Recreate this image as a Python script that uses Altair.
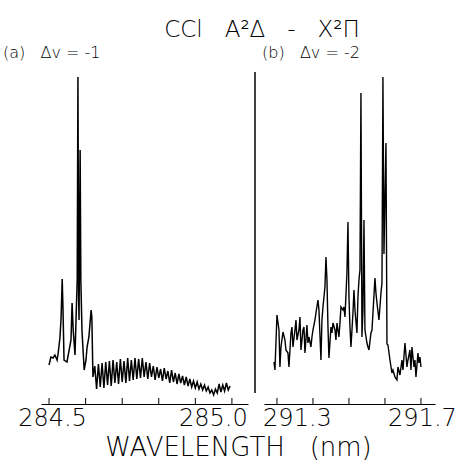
import altair as alt
import pandas as pd

# ---- panel (a): delta v = -1 ----
left_wl = [284.500, 284.505, 284.511, 284.516, 284.522, 284.525, 284.530, 284.533, 284.536, 284.538,
           284.541, 284.549, 284.555, 284.560, 284.563, 284.566, 284.571, 284.574, 284.577, 284.579,
           284.581, 284.582, 284.585, 284.587, 284.590, 284.596, 284.601, 284.604, 284.609, 284.615,
           284.617, 284.620,
           284.625, 284.630, 284.635, 284.640, 284.645, 284.650, 284.655, 284.660, 284.665, 284.670,
           284.675, 284.680, 284.685, 284.690, 284.695, 284.700, 284.705, 284.710, 284.715, 284.720,
           284.725, 284.730, 284.735, 284.740, 284.745, 284.750, 284.755, 284.760, 284.765, 284.770,
           284.775, 284.780, 284.785, 284.790, 284.795, 284.800, 284.805, 284.810, 284.815, 284.820,
           284.825, 284.830, 284.835, 284.840, 284.845, 284.850, 284.855, 284.860, 284.865, 284.870,
           284.875, 284.880, 284.885, 284.890, 284.895, 284.900, 284.905, 284.910, 284.915, 284.920,
           284.925, 284.930, 284.935, 284.940, 284.945, 284.950, 284.955, 284.960, 284.965, 284.970,
           284.975, 284.980, 284.985, 284.990, 284.995]
left_int = [39, 47, 46, 49, 44, 51, 67, 87, 125, 97,
            44, 42, 54, 64, 101, 74, 49, 87, 124, 327,
            104, 84, 254, 122, 74, 34, 44, 57, 67, 94,
            87, 27,
            38, 15, 40, 17, 41, 16, 42, 19, 43, 18,
            44, 21, 42, 20, 45, 22, 43, 21, 46, 23,
            44, 24, 46, 25, 45, 26, 46, 27, 42, 25,
            41, 27, 38, 24, 37, 26, 35, 23, 36, 25,
            33, 21, 34, 22, 31, 20, 30, 21, 28, 19,
            27, 18, 25, 17, 23, 16, 22, 15, 20, 14,
            19, 13, 17, 11, 14, 9, 15, 11, 20, 12,
            19, 13, 21, 14, 18]

# ---- panel (b): delta v = -2 ----
right_wl = [291.2917, 291.2944, 291.3000, 291.3056, 291.3083, 291.3111, 291.3167, 291.3222, 291.3250, 291.3306,
            291.3333, 291.3389, 291.3417, 291.3444, 291.3500, 291.3528, 291.3556, 291.3611, 291.3639, 291.3667,
            291.3722, 291.3750, 291.3778, 291.3833, 291.3861, 291.3889, 291.3944, 291.3972, 291.4000, 291.4056,
            291.4083, 291.4139, 291.4167, 291.4222, 291.4250, 291.4278, 291.4333, 291.4361, 291.4389, 291.4417,
            291.4444, 291.4500, 291.4528, 291.4556, 291.4611, 291.4639, 291.4667, 291.4722, 291.4750, 291.4778,
            291.4833, 291.4861, 291.4889, 291.4944, 291.4972, 291.5000, 291.5028, 291.5056, 291.5111, 291.5139,
            291.5167, 291.5222, 291.5250, 291.5278, 291.5306, 291.5333, 291.5361, 291.5389, 291.5417, 291.5444,
            291.5500, 291.5528, 291.5556, 291.5611, 291.5639, 291.5667, 291.5722, 291.5750, 291.5778, 291.5833,
            291.5861, 291.5889, 291.5917, 291.5944, 291.5972, 291.6028, 291.6056, 291.6083, 291.6139, 291.6194,
            291.6222, 291.6278, 291.6333, 291.6361, 291.6417, 291.6472, 291.6500, 291.6556, 291.6611, 291.6639,
            291.6694, 291.6722, 291.6750, 291.6806, 291.6833, 291.6861, 291.6917, 291.6944, 291.6972, 291.7000]
right_int = [42, 34, 89, 74, 37, 57, 72, 64, 54, 51,
             37, 71, 77, 57, 74, 84, 64, 74, 87, 54,
             74, 77, 51, 79, 61, 67, 57, 67, 74, 84,
             91, 104, 94, 44, 84, 97, 117, 147, 124, 77,
             46, 77, 71, 81, 74, 64, 81, 67, 81, 97,
             94, 97, 87, 131, 182, 107, 77, 57, 91, 114,
             94, 71, 107, 124, 134, 311, 67, 94, 184, 74,
             61, 57, 54, 71, 74, 91, 126, 111, 101, 84,
             97, 111, 121, 327, 150, 261, 60, 59, 44, 31,
             34, 27, 24, 37, 29, 44, 34, 61, 37, 44,
             54, 34, 57, 37, 44, 27, 51, 41, 47, 37]

left_ticks = [284.5, 284.6, 284.7, 284.8, 284.9, 285.0]
right_ticks = [291.3, 291.4, 291.5, 291.6, 291.7]
left_labels = [284.5, 285.0]
right_labels = [291.3, 291.7]

NB = "\u00a0"
title_text = f"CCl{NB*3}A²Δ{NB*3}-{NB*3}X²Π"
panel_a = f"(a){NB*3}Δv{NB}={NB}-1"
panel_b = f"(b){NB*3}Δv{NB}={NB}-2"
x_title = f"WAVELENGTH{NB*3}(nm)"

FONT = "DejaVu Sans"
FW = 200

left_df = pd.DataFrame({"wl": left_wl, "I": left_int})
right_df = pd.DataFrame({"wl": right_wl, "I": right_int})
lt_df = pd.DataFrame({"wl": left_ticks, "y0": 0, "y1": 6})
rt_df = pd.DataFrame({"wl": right_ticks, "y0": 0, "y1": 6})

yscale = alt.Scale(domain=[0, 334], nice=False, zero=False)
lscale = alt.Scale(domain=[284.478, 285.044], range=[0, 207], nice=False, zero=False)
rscale = alt.Scale(domain=[291.264, 291.739], range=[223, 394], nice=False, zero=False)

def make_axis(values, offsets, title=None):
    kw = dict(
        values=values, format=".1f", ticks=False, tickSize=0, grid=False,
        domainColor="black", domainWidth=1.2,
        labelFont=FONT, labelFontWeight=FW, labelFontSize=24, labelColor="black",
        labelBaseline="alphabetic", labelPadding=21, labelFlush=False, labelOverlap=False,
        labelOffset={"condition": {"test": f"datum.value == {values[1]}", "value": offsets[1]},
                     "value": offsets[0]},
        orient="bottom",
    )
    if title is not None:
        kw.update(title=title, titleX=197, titleY=51, titleFont=FONT, titleFontWeight=FW,
                  titleFontSize=26, titleColor="black", titleBaseline="alphabetic",
                  titleAlign="center")
    else:
        kw.update(title=None)
    return alt.Axis(**kw)

left_line = alt.Chart(left_df).mark_line(color="black", strokeWidth=1.5).encode(
    x=alt.X("wl:Q", scale=lscale, axis=make_axis(left_labels, [3, -19], x_title)),
    y=alt.Y("I:Q", scale=yscale, axis=None),
)
left_tk = alt.Chart(lt_df).mark_rule(color="black", strokeWidth=1).encode(
    x=alt.X("wl:Q", scale=lscale), y=alt.Y("y0:Q", scale=yscale), y2="y1:Q"
)
right_line = alt.Chart(right_df).mark_line(color="black", strokeWidth=1.4).encode(
    x=alt.X("wl:Q", scale=rscale, axis=make_axis(right_labels, [20, 1])),
    y=alt.Y("I:Q", scale=yscale, axis=None),
)
right_tk = alt.Chart(rt_df).mark_rule(color="black", strokeWidth=1).encode(
    x=alt.X("wl:Q", scale=rscale), y=alt.Y("y0:Q", scale=yscale), y2="y1:Q"
)

one = pd.DataFrame({"k": [0]})
sep = alt.Chart(one).mark_rule(color="black", strokeWidth=1.5).encode(
    x=alt.value(214), y=alt.value(2), y2=alt.value(323)
)

def label(text, x, y, size, align="left"):
    return alt.Chart(one).mark_text(text=text, font=FONT, fontWeight=FW, fontSize=size,
                                    align=align, baseline="alphabetic", color="black").encode(
        x=alt.value(x), y=alt.value(y))

txt_title = label(title_text, 221, -33, 23, align="center")
txt_a = label(panel_a, -38, -12, 16)
txt_b = label(panel_b, 221, -12, 16)

left = alt.layer(left_line, left_tk)
right = alt.layer(right_line, right_tk)

chart = alt.layer(left, right, sep, txt_title, txt_a, txt_b).resolve_scale(x="independent").properties(
    width=394, height=334,
    padding={"left": 41, "top": 70, "right": 23, "bottom": 64},
    autosize=alt.AutoSizeParams(type="none"),
    background="white",
).configure_view(strokeWidth=0, stroke="transparent")

chart.save("out.html", embed_options={"renderer": "svg", "actions": False})
